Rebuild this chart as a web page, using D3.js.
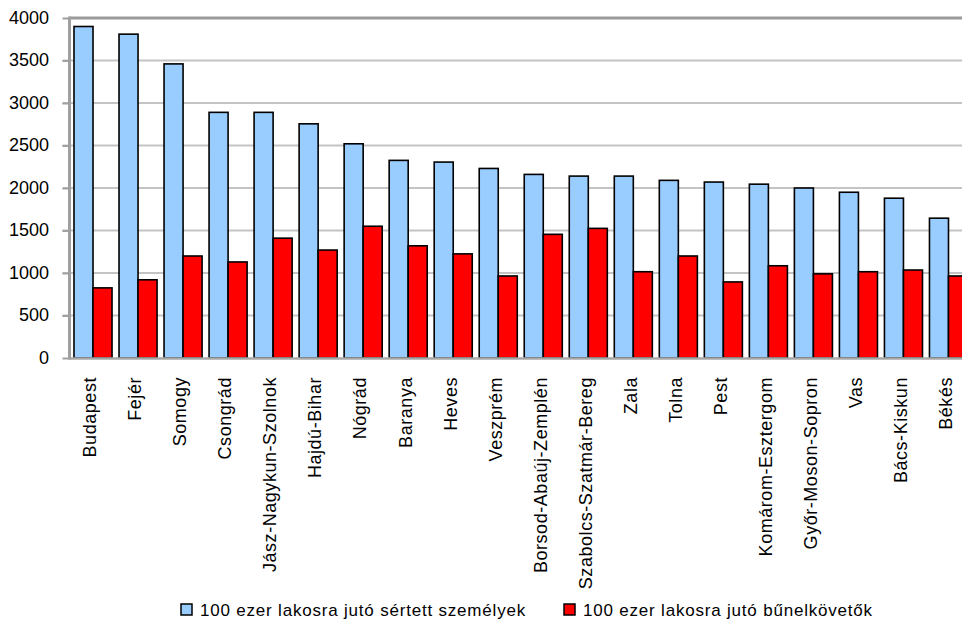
<!DOCTYPE html>
<html>
<head>
<meta charset="utf-8">
<script src="https://cdn.jsdelivr.net/npm/d3@7"></script>
<style>
  body { margin: 0; background: #fff; }
  text { font-family: "Liberation Sans", Arial, sans-serif; fill: #000; }
</style>
</head>
<body>
<script>
// megyék
categories = ["Budapest", "Fejér", "Somogy", "Csongrád", "Jász-Nagykun-Szolnok", "Hajdú-Bihar",
  "Nógrád", "Baranya", "Heves", "Veszprém", "Borsod-Abaúj-Zemplén", "Szabolcs-Szatmár-Bereg",
  "Zala", "Tolna", "Pest", "Komárom-Esztergom", "Győr-Moson-Sopron", "Vas", "Bács-Kiskun", "Békés"]

serielabels = ["100 ezer lakosra jutó sértett személyek", "100 ezer lakosra jutó bűnelkövetők"]

sertettek = [3900, 3810, 3460, 2890, 2890, 2755, 2520, 2325, 2305, 2230, 2160, 2140,
  2140, 2090, 2070, 2045, 2000, 1950, 1880, 1645]
elkovetok = [825, 920, 1200, 1130, 1410, 1270, 1550, 1320, 1225, 965, 1455, 1525,
  1015, 1200, 895, 1085, 990, 1015, 1035, 965]

yTicks = [0, 500, 1000, 1500, 2000, 2500, 3000, 3500, 4000]

colors = ["#99ccff", "#ff0000"]

width = 962
height = 627
margin = ({top: 18, right: -9, bottom: 269, left: 70.5})

data = categories.map((c, i) => ({name: c, values: [sertettek[i], elkovetok[i]]}))

x = d3.scaleBand()
  .domain(categories)
  .range([margin.left, width - margin.right])
  .paddingInner(0.155)
  .paddingOuter(0.0775)

x1 = d3.scaleBand()
  .domain([0, 1])
  .range([0, x.bandwidth()])

y = d3.scaleLinear()
  .domain([0, 4000])
  .range([height - margin.bottom, margin.top])

const svg = d3.select("body").append("svg")
  .attr("width", width)
  .attr("height", height)

// rácsvonalak
svg.append("g")
  .selectAll("line")
  .data(yTicks.slice(1, -1))
  .join("line")
  .attr("x1", margin.left - 8)
  .attr("x2", width)
  .attr("y1", d => y(d))
  .attr("y2", d => y(d))
  .attr("stroke", "#c4c4c4")
  .attr("stroke-width", 2)

const yAxis = g => g
  .attr("transform", `translate(${margin.left},0)`)
  .call(d3.axisLeft(y).tickValues(yTicks).tickFormat(d3.format("d")).tickSize(8).tickPadding(13.5))
  .call(g => g.select(".domain").remove())
  .call(g => g.selectAll(".tick line").attr("stroke", "#a0a0a0").attr("stroke-width", 2))
  .call(g => g.selectAll(".tick text")
    .attr("font-size", 18)
    .attr("font-family", "Liberation Sans, Arial, sans-serif")
    .attr("dy", "0.3em"))

svg.append("g").call(yAxis)

// oszlopok
svg.append("g")
  .selectAll("g")
  .data(data)
  .join("g")
  .attr("transform", d => `translate(${x(d.name)},0)`)
  .selectAll("rect")
  .data(d => d.values.map((v, k) => ({k, v})))
  .join("rect")
  .attr("x", d => x1(d.k))
  .attr("y", d => y(d.v))
  .attr("width", x1.bandwidth())
  .attr("height", d => y(0) - y(d.v))
  .attr("fill", d => colors[d.k])
  .attr("stroke", "#000")
  .attr("stroke-width", 1.6)

// keret
svg.append("line")
  .attr("x1", margin.left - 1).attr("x2", width)
  .attr("y1", y(4000)).attr("y2", y(4000))
  .attr("stroke", "#9a9a9a").attr("stroke-width", 3)
svg.append("line")
  .attr("x1", margin.left - 1).attr("x2", width)
  .attr("y1", y(0) + 0.5).attr("y2", y(0) + 0.5)
  .attr("stroke", "#a8a8a8").attr("stroke-width", 2.5)
svg.append("line")
  .attr("x1", margin.left - 1).attr("x2", margin.left - 1)
  .attr("y1", y(4000) - 1.5).attr("y2", y(0) + 1.5)
  .attr("stroke", "#a0a0a0").attr("stroke-width", 3)

// kategória feliratok
svg.append("g")
  .selectAll("text")
  .data(categories)
  .join("text")
  .attr("transform", d => `translate(${x(d) + x.bandwidth() / 2 - 3},377) rotate(-90)`)
  .attr("text-anchor", "end")
  .attr("dy", "0.35em")
  .attr("font-size", 18)
  .attr("letter-spacing", 0.55)
  .text(d => d)

// jelmagyarázat
const legend = svg.append("g")
  .selectAll("g")
  .data(serielabels)
  .join("g")
  .attr("transform", (d, i) => `translate(${[181, 564][i]},604)`)

legend.append("rect")
  .attr("width", 11)
  .attr("height", 11)
  .attr("fill", (d, i) => colors[i])
  .attr("stroke", "#000")
  .attr("stroke-width", 1.5)

legend.append("text")
  .attr("x", 19)
  .attr("y", 12)
  .attr("font-size", 17)
  .attr("letter-spacing", 0.8)
  .text(d => d)
</script>
</body>
</html>
